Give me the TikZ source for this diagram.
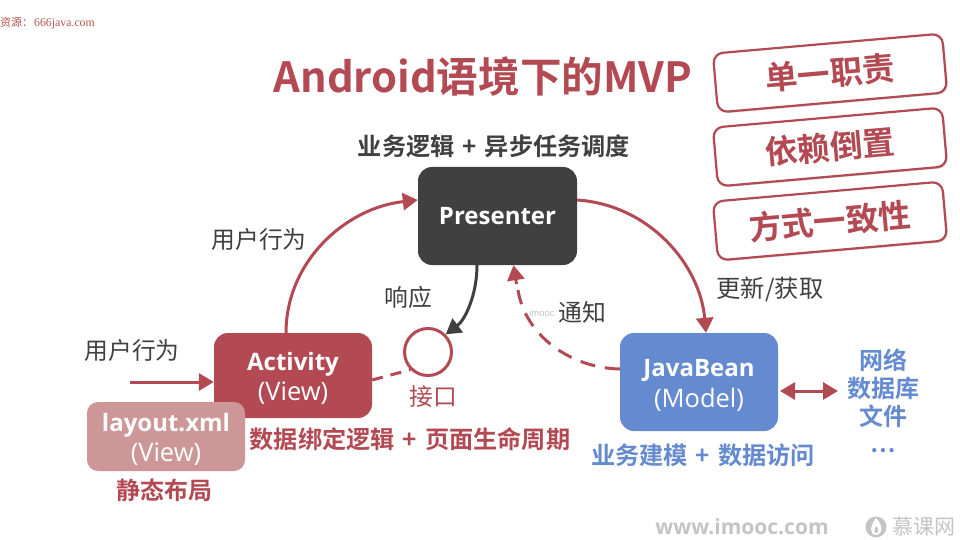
\documentclass[tikz,border=0pt]{standalone}
\usepackage{fontspec}
\setmainfont{Noto Sans CJK SC}[BoldFont={Noto Sans CJK SC Bold}]
\newfontfamily\ofont{Open Sans}
\newfontfamily\sfont{Liberation Serif}
\newfontfamily\lfont{Liberation Sans}
\usetikzlibrary{arrows.meta,calc,shadows}
\definecolor{mvpred}{HTML}{B34A53}
\definecolor{mvppale}{HTML}{CD9697}
\definecolor{mvpblue}{HTML}{648AD0}
\definecolor{mvpdark}{HTML}{404040}
\definecolor{mvpgray}{HTML}{C4C4C4}
\newcommand{\gapplus}{\hspace{8pt}+\hspace{8pt}}
\newcommand{\boxtitle}[2]{\fontsize{24}{30}\selectfont\ofont\bfseries\rule{0pt}{24pt}#1\\[5pt]\fontsize{25.5}{30}\selectfont\ofont\mdseries #2}
\tikzset{
  fs/.style={font=\fontsize{#1}{28}\selectfont},
  mvpbox/.style={rounded corners=14pt,minimum width=158pt,align=center,text=white,inner sep=0pt},
  rulebox/.style={draw=mvpred,line width=2.2pt,fill=white,rounded corners=10pt,minimum width=230pt,minimum height=59pt,rotate=5,inner sep=0pt,
    text=mvpred,font=\fontsize{32.5}{36}\selectfont\bfseries,drop shadow={shadow xshift=1.5pt,shadow yshift=-1.5pt,fill=black!40,opacity=.35}},
  lbl/.style={inner sep=0pt,anchor=center},
  link/.style={line width=3pt},
  tip/.style={-{Triangle[length=15pt,width=17pt]}},
}
\begin{document}
\begin{tikzpicture}[x=1pt,y=-1pt]
\useasboundingbox[fill=white] (0,0) rectangle (960,540);
% watermark
\node[lbl,anchor=west,text=mvpred!80!brown] (src) at (0,23.5) {\fontsize{11}{13}\selectfont 资源：\hspace{1pt}\fontsize{11.8}{13}\selectfont\sfont 666java.com};
% title
\node[lbl,text=mvpred,fs=41.6] (title) at (483,77) {\bfseries Android语境下的MVP};
% rule boxes
\node[rulebox] (r1) at (830,73) {单一职责};
\node[rulebox] (r2) at (830,147) {依赖倒置};
\node[rulebox] (r3) at (830,221) {方式一致性};
% main nodes
\node[lbl,text=mvpdark,fs=24.2] (ptxt) at (494,146) {\bfseries 业务逻辑\gapplus 异步任务调度};
\node[mvpbox,fill=mvpdark,minimum height=98pt,minimum width=159pt] (pres) at (497.5,216) {\fontsize{24}{28}\selectfont\ofont\bfseries Presenter};
\node[mvpbox,fill=mvpred,minimum height=85pt] (act) at (293,375.5) {\boxtitle{Activity}{(View)}};
\node[mvpbox,fill=mvppale,minimum height=69pt,rounded corners=11pt] (lay) at (166,436.5) {\boxtitle{layout.xml}{(View)}};
\node[mvpbox,fill=mvpblue,minimum height=98pt] (bean) at (699,382) {\boxtitle{JavaBean}{(Model)}};
\node[draw=mvpred,line width=3pt,fill=white,circle,minimum size=47pt,inner sep=0pt] (ifc) at (428,352) {};
% labels
\node[lbl,text=mvpdark,fs=23.8] (l1) at (259,239) {用户行为};
\node[lbl,text=mvpdark,fs=23.8] (l2) at (132,350) {用户行为};
\node[lbl,text=mvpdark,fs=23.8] (l3) at (408,297) {响应};
\node[lbl,text=mvpdark,fs=23.8] (l4) at (582,312) {通知};
\node[lbl,text=mvpgray,fs=9.5] (im) at (542,313) {\lfont imooc};
\node[lbl,text=mvpdark,fs=24.3] (l5) at (770,289) {更新/获取};
\node[lbl,text=mvpred,fs=23.8] (l6) at (433.5,396) {接口};
\node[lbl,text=mvpred,fs=24.2] (l7) at (410,439) {\bfseries 数据绑定逻辑\gapplus 页面生命周期};
\node[lbl,text=mvpred,fs=24] (l8) at (164,490) {\bfseries 静态布局};
\node[lbl,text=mvpblue,fs=24.2] (l9) at (703,455) {\bfseries 业务建模\gapplus 数据访问};
\node[lbl,text=mvpblue,fs=24,align=center] (l10) at (883.5,388) {\bfseries 网络\\\bfseries 数据库\\\bfseries 文件};
\node[lbl,text=mvpblue,fs=23] (l11) at (883,451) {\bfseries …};
% free ends
\coordinate (in) at (130,382);
\coordinate (store) at (838,391);
% connectors
\draw[link,mvpred,tip] (act.north -| 286,0) .. controls (286,262) and (345,208) .. (pres.west |- 0,200);
\draw[link,mvpred,tip] (pres.east |- 0,200) .. controls (650,205) and (700,265) .. (bean.north -| 706,0);
\draw[link,mvpdark,tip] (pres.south -| 477,0) .. controls (477,295) and (465,320) .. (ifc.north east);
\draw[link,mvpred,dash pattern=on 11pt off 8pt] (act.east |- 0,380) -- (ifc.south west);
\draw[link,mvpred,dash pattern=on 15pt off 10pt] (bean.west |- 0,369) .. controls (570,368) and (525,335) .. (518,290);
\draw[mvpred,tip,line width=3pt] (516.5,284) -- (pres.south -| 513.5,0);
\draw[link,mvpred,tip] (in) -- (act.west |- in);
\draw[mvpred,line width=3pt,{Triangle[length=15pt,width=17pt]}-{Triangle[length=15pt,width=17pt]}] (780,391) -- (store);
% footer
\node[lbl,text=mvpgray,fs=21] (www) at (742,527) {\ofont\bfseries www.imooc.com};
\node[draw=none,fill=mvpgray,circle,minimum size=21pt,inner sep=0pt] (logo) at (876,527) {};
\fill[white] (876,518) .. controls (883,525) and (883,534) .. (876,535) .. controls (869,534) and (870,526) .. cycle;
\fill[mvpgray] (876.5,526) .. controls (879,530) and (878,533) .. (876,533) .. controls (874,533) and (874,529) .. cycle;
\node[lbl,text=mvpgray,fs=21] (mk) at (923.5,527) {慕课网};
\end{tikzpicture}
\end{document}
